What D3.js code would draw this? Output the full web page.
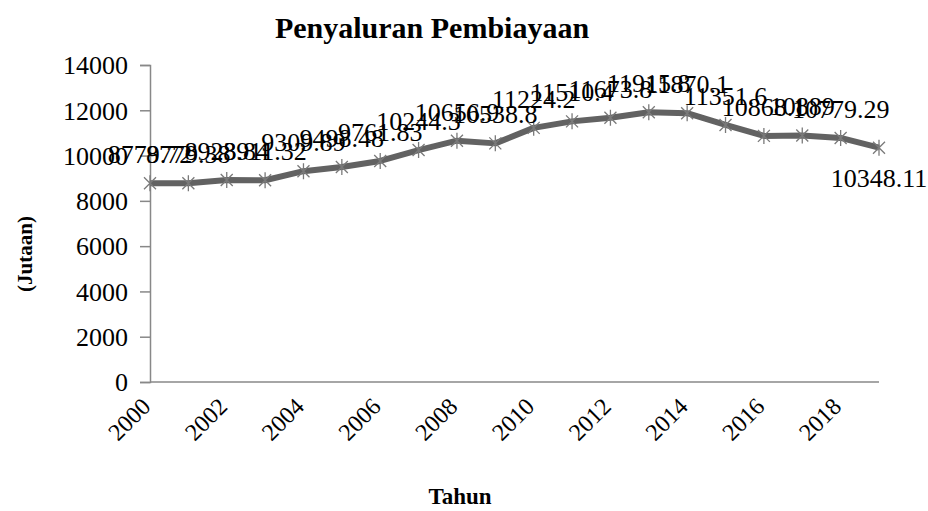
<!DOCTYPE html>
<html>
<head>
<meta charset="utf-8">
<script src="https://cdn.jsdelivr.net/npm/d3@7"></script>
<style>
  body { margin: 0; background: #fff; }
  text { font-family: "Liberation Serif", "Times New Roman", serif; }
</style>
</head>
<body>
<svg width="928" height="511"></svg>
<script>
    // data
    var years = [2000, 2001, 2002, 2003, 2004, 2005, 2006, 2007, 2008, 2009,
                 2010, 2011, 2012, 2013, 2014, 2015, 2016, 2017, 2018, 2019];
    var values = [8779.72, 8779.38, 8923.84, 8911.32, 9309.89, 9498.48, 9761.83, 10244.3, 10656.9, 10538.8,
                  11224.2, 11510.4, 11673.8, 11915.8, 11870.1, 11351.6, 10868.1, 10889, 10779.29, 10348.11];
    var labels = ["8779.72", "8779.38", "8923.84", "8911.32", "9309.89", "9498.48", "9761.83", "10244.3", "10656.9", "10538.8",
                  "11224.2", "11510.4", "11673.8", "11915.8", "11870.1", "11351.6", "10868.1", "10889", "10779.29", "10348.11"];
    var yTicks = [0, 2000, 4000, 6000, 8000, 10000, 12000, 14000];
    var xTickYears = [2000, 2002, 2004, 2006, 2008, 2010, 2012, 2014, 2016, 2018];

    var serif = '"Liberation Serif", "Times New Roman", serif';
    var svg = d3.select("svg");

    var x = d3.scalePoint()
        .domain(years)
        .range([150, 879]);

    var y = d3.scaleLinear()
        .domain([0, 14000])
        .range([382, 65]);

    // y axis
    var yAxis = svg.append("g")
        .attr("transform", "translate(150,0)")
        .attr("font-family", serif)
        .call(d3.axisLeft(y).tickValues(yTicks).tickSize(10).tickPadding(12).tickFormat(d3.format("d")));
    yAxis.select(".domain").attr("stroke", "#888").attr("stroke-width", 1.5);
    yAxis.selectAll(".tick line").attr("stroke", "#888").attr("stroke-width", 1.5);
    yAxis.selectAll("text")
        .attr("fill", "#000")
        .style("font-size", "26px")
        .attr("dy", "0.34em");

    // x axis
    svg.append("line")
        .attr("x1", 150).attr("x2", 879)
        .attr("y1", y(0)).attr("y2", y(0))
        .attr("stroke", "#888").attr("stroke-width", 1.5);

    svg.append("g").selectAll("text")
        .data(xTickYears)
        .enter().append("text")
        .attr("transform", function (d) {
            return "translate(" + (x(d) + 2) + "," + (y(0) + 26) + ") rotate(-45)";
        })
        .attr("text-anchor", "end")
        .style("font-size", "24px")
        .text(function (d) { return d; });

    // line
    var points = years.map(function (d, i) { return { year: d, value: values[i], label: labels[i] }; });

    var line = d3.line()
        .x(function (d) { return x(d.year); })
        .y(function (d) { return y(d.value); });

    svg.append("path")
        .datum(points)
        .attr("fill", "none")
        .attr("stroke", "#626262")
        .attr("stroke-width", 6)
        .attr("stroke-linejoin", "round")
        .attr("d", line);

    // star markers
    var s = 6;
    var starPath = "M" + (-s) + "," + (-s) + "L" + s + "," + s +
                   "M" + (-s) + "," + s + "L" + s + "," + (-s) +
                   "M0," + (-s - 2) + "L0," + (s + 2);
    svg.append("g").selectAll("path")
        .data(points)
        .enter().append("path")
        .attr("transform", function (d) { return "translate(" + x(d.year) + "," + y(d.value) + ")"; })
        .attr("d", starPath)
        .attr("stroke", "#7a7a7a")
        .attr("stroke-width", 1.3)
        .attr("fill", "none");

    // data labels
    svg.append("g").selectAll("text")
        .data(points)
        .enter().append("text")
        .attr("x", function (d) { return x(d.year); })
        .attr("y", function (d, i) { return i === points.length - 1 ? y(d.value) + 39 : y(d.value) - 20; })
        .attr("text-anchor", "middle")
        .style("font-size", "26px")
        .text(function (d) { return d.label; });

    // titles
    svg.append("text")
        .attr("x", 432).attr("y", 38)
        .attr("text-anchor", "middle")
        .style("font-size", "30px")
        .style("font-weight", "bold")
        .text("Penyaluran Pembiayaan");

    svg.append("text")
        .attr("transform", "translate(32,254) rotate(-90)")
        .attr("text-anchor", "middle")
        .style("font-size", "21px")
        .style("font-weight", "bold")
        .text("(Jutaan)");

    svg.append("text")
        .attr("x", 460).attr("y", 504)
        .attr("text-anchor", "middle")
        .style("font-size", "23px")
        .style("font-weight", "bold")
        .text("Tahun");
</script>
</body>
</html>
